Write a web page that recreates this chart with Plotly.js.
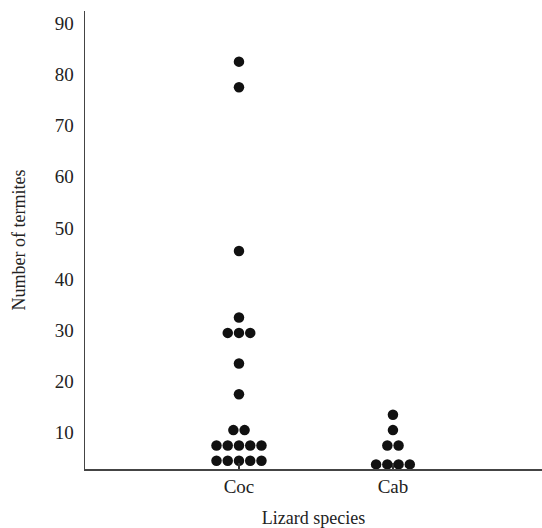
<!DOCTYPE html>
<html>
<head>
<meta charset="utf-8">
<script src="https://cdn.plot.ly/plotly-3.0.1.min.js"></script>
<style>html,body{margin:0;padding:0;background:#fff;}#chart{width:542px;height:528px;}</style>
</head>
<body>
<div id="chart"></div>
<script>
const species = ['Coc', 'Cab'];
const cocValues = [82.5, 77.5, 45.5, 32.5, 29.5, 29.5, 29.5, 23.5, 17.5, 10.5, 10.5,
                   7.5, 7.5, 7.5, 7.5, 7.5, 4.5, 4.5, 4.5, 4.5, 4.5];
const cabValues = [13.5, 10.5, 7.5, 7.5, 3.8, 3.8, 3.8, 3.8];
const yTickVals = [10, 20, 30, 40, 50, 60, 70, 80, 90];

const dotStep = 0.073;
function dotPositions(values, center) {
  const counts = {};
  values.forEach(v => { counts[v] = (counts[v] || 0) + 1; });
  const xs = [], ys = [];
  Object.keys(counts).forEach(k => {
    const n = counts[k];
    for (let i = 0; i < n; i++) {
      xs.push(center + (i - (n - 1) / 2) * dotStep);
      ys.push(Number(k));
    }
  });
  return {xs, ys};
}

const groups = [cocValues, cabValues];
const traces = groups.map((vals, gi) => {
  const p = dotPositions(vals, gi);
  return {
    type: 'scatter', mode: 'markers', x: p.xs, y: p.ys, name: species[gi],
    marker: {color: '#111', size: 10.5, line: {width: 0}},
    hoverinfo: 'y', showlegend: false, cliponaxis: false
  };
});

const family = '"Liberation Serif", "Times New Roman", serif';
const tickFont = {family: family, size: 19, color: '#222'};
const titleFont = {family: family, size: 18, color: '#222'};
const layout = {
  width: 542, height: 528,
  margin: {l: 85, r: 0, t: 11, b: 59},
  paper_bgcolor: '#fff', plot_bgcolor: '#fff',
  font: tickFont,
  xaxis: {
    range: [-1, 1.968], tickvals: species.map((s, i) => i), ticktext: species,
    showgrid: false, zeroline: false, showline: true, linecolor: '#444', linewidth: 1.5,
    ticks: 'inside', ticklen: 6, tickwidth: 1.2, tickcolor: '#333',
    tickfont: tickFont,
    title: {text: 'Lizard species', font: titleFont, standoff: 18}
  },
  yaxis: {
    range: [2.9, 92.4], tickvals: yTickVals, ticks: '',
    showgrid: false, zeroline: false, showline: true, linecolor: '#444', linewidth: 1.5,
    tickfont: tickFont, ticklabelstandoff: 6,
    title: {text: 'Number of termites', font: titleFont, standoff: 24}
  }
};
Plotly.newPlot('chart', traces, layout, {displayModeBar: false, staticPlot: true});
</script>
</body>
</html>
